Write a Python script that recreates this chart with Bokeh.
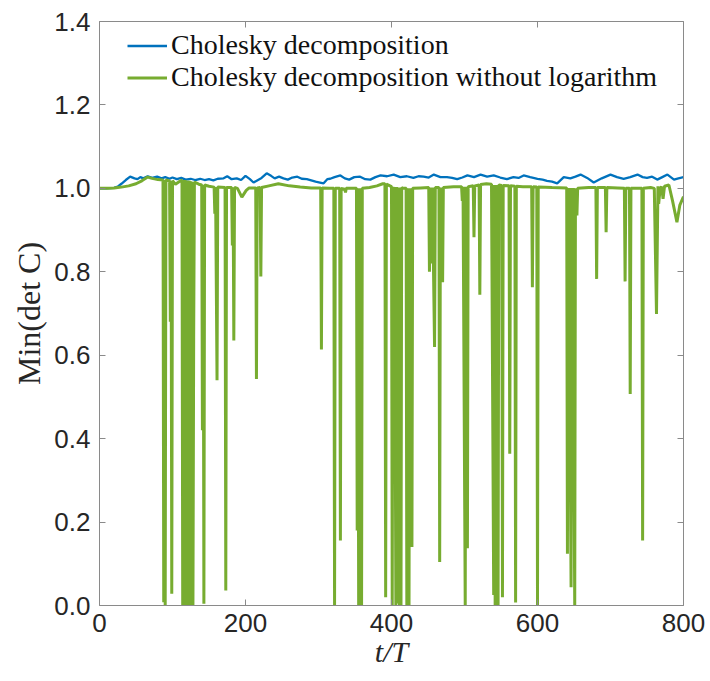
from bokeh.plotting import figure
from bokeh.models import (Range1d, LinearAxis, FixedTicker, PrintfTickFormatter,
                          Legend, LegendItem)
from bokeh.embed import file_html
from bokeh.resources import INLINE

# ---------------- data ----------------
x_ticks = [0, 200, 400, 600, 800]
y_ticks = [0.0, 0.2, 0.4, 0.6, 0.8, 1.0, 1.2, 1.4]

blue_t = [0, 10, 20, 25, 30, 36, 42, 48, 52, 56, 60, 66, 72, 79, 85, 90, 96, 100,
          106, 112, 118, 125, 131, 138, 144, 150, 156, 162, 170, 175, 181, 188,
          194, 200, 206, 211, 216, 222, 229, 235, 240, 246, 252, 258, 264, 271,
          277, 284, 290, 296, 302, 307, 312, 316, 322, 330, 336, 342, 349, 357,
          364, 371, 378, 385, 394, 403, 412, 421, 430, 437, 444, 451, 458, 467,
          476, 483, 490, 497, 504, 513, 522, 531, 540, 549, 558, 567, 574, 581,
          590, 600, 607, 613, 620, 627, 636, 645, 652, 659, 668, 677, 688, 700,
          709, 718, 727, 737, 744, 750, 757, 764, 771, 778, 787, 793, 800]
blue_v = [1.000, 1.000, 1.001, 1.004, 1.011, 1.020, 1.028, 1.024, 1.022, 1.027,
          1.024, 1.029, 1.025, 1.028, 1.024, 1.027, 1.023, 1.026, 1.022, 1.025,
          1.021, 1.023, 1.020, 1.023, 1.020, 1.022, 1.019, 1.023, 1.024, 1.029,
          1.022, 1.024, 1.020, 1.030, 1.022, 1.014, 1.019, 1.025, 1.036, 1.030,
          1.024, 1.028, 1.024, 1.021, 1.026, 1.028, 1.023, 1.022, 1.019, 1.016,
          1.014, 1.012, 1.022, 1.023, 1.027, 1.031, 1.024, 1.021, 1.027, 1.028,
          1.022, 1.021, 1.027, 1.031, 1.029, 1.033, 1.027, 1.029, 1.025, 1.029,
          1.028, 1.026, 1.033, 1.027, 1.027, 1.025, 1.022, 1.026, 1.031, 1.027,
          1.033, 1.028, 1.031, 1.026, 1.022, 1.027, 1.025, 1.031, 1.027, 1.023,
          1.021, 1.018, 1.016, 1.012, 1.027, 1.024, 1.028, 1.033, 1.025, 1.014,
          1.024, 1.033, 1.027, 1.023, 1.027, 1.033, 1.027, 1.025, 1.028, 1.021,
          1.027, 1.033, 1.021, 1.024, 1.027]

green_t = [0, 10, 20, 30, 40, 50, 58, 66, 72, 80, 87, 88, 89, 90, 91,
           96, 97, 98, 99, 100, 104, 110,
           113, 114, 115, 116, 117, 118, 119, 120, 121, 122, 123, 124, 125, 126,
           127, 128, 129, 130, 136, 140, 141, 142, 143, 144, 150, 157, 158, 159,
           161, 162, 172, 173, 174, 181, 182, 183, 184, 185, 189, 195, 201, 205,
           214, 215, 216, 220, 221, 222, 232, 245, 260, 275, 290,
           303, 304, 305, 315, 321, 322, 323, 329, 330, 331, 336, 337, 338, 345,
           352, 353, 354, 355, 356, 357, 358, 359, 360, 370, 380, 388,
           391, 392, 393, 400, 401, 402, 403, 404, 406, 407, 409, 410, 411, 412,
           413, 414, 415, 420, 421, 422, 424, 425, 428, 429, 440,
           451, 452, 453, 455, 456, 459, 460, 465, 466, 467, 470, 471, 485,
           496, 497, 498, 501, 502, 504, 505, 512, 513, 514, 520, 521, 522,
           530, 537, 540, 541, 542, 543, 544, 545, 546, 547, 551, 552, 553,
           561, 562, 563, 569, 570, 571, 580, 592, 593, 594, 599, 600, 601,
           620, 640, 641, 642, 643, 644, 645, 646, 647, 648, 649, 650, 651, 652,
           654, 655, 670, 680, 681, 682, 693, 694, 695, 710, 719, 720, 721,
           726, 727, 728, 743, 744, 745, 755, 760, 763, 765, 766, 768, 770,
           772, 774, 780, 785, 791, 795, 800]
green_v = [1.000, 1.000, 1.001, 1.003, 1.006, 1.011, 1.018, 1.027, 1.024, 1.021,
           1.020, 0.008, 1.020, 0.000, 1.020,
           1.018, 0.680, 1.018, 0.028, 1.018, 1.010, 1.017,
           1.020, 0.000, 1.020, 0.000, 1.020, 0.005, 1.019, 0.000, 1.019, 0.000,
           1.018, 0.000, 1.017, 0.000, 1.016, 0.000, 0.640, 1.015,
           1.010, 1.008, 0.420, 1.008, 0.004, 1.008, 1.005, 1.003, 0.939, 1.003,
           0.540, 1.003, 1.002, 0.036, 1.002, 1.002, 0.863, 1.002, 0.635, 1.002,
           1.000, 0.979, 0.995, 1.001,
           1.001, 0.543, 1.001, 1.002, 0.789, 1.002, 1.006, 1.011, 1.006, 1.003,
           1.001,
           1.001, 0.614, 1.001, 1.000, 1.000, 0.000, 1.000, 1.000, 0.156, 1.000,
           0.998, 0.990, 1.000, 1.000,
           1.000, 0.180, 1.000, 0.000, 1.000, 0.007, 1.000, 0.000, 1.000, 1.002,
           1.006, 1.011,
           1.011, 0.020, 1.010, 1.004, 0.000, 1.004, 0.300, 1.003, 0.000, 1.003,
           0.005, 1.002, 0.000, 1.002, 0.000, 1.002, 1.001, 1.000, 0.000,
           1.000, 0.000, 1.000, 0.140, 1.000, 1.001,
           1.002, 0.800, 1.002, 0.820, 1.002, 0.620, 1.002, 1.002, 0.104, 1.002,
           0.775, 1.002, 1.004,
           1.004, 0.970, 1.004, 0.000, 1.004, 0.137, 1.004, 1.006, 0.883, 1.006,
           1.008, 0.745, 1.009,
           1.011, 1.010, 0.025, 1.008, 0.000, 1.008, 0.005, 1.008, 0.000, 1.008,
           1.007, 0.020, 1.007,
           1.006, 0.364, 1.006, 1.005, 0.007, 1.005, 1.004, 1.004, 0.763, 1.004,
           1.003, 0.000, 1.003,
           1.002, 1.001, 0.124, 1.001, 0.350, 1.001, 0.330, 0.044, 1.001, 0.340,
           1.001, 0.330, 0.000, 1.000,
           0.935, 1.000, 1.002, 1.002, 0.783, 1.002, 1.002, 0.895, 1.002, 1.001,
           1.000, 0.777, 1.000,
           1.000, 0.507, 1.000, 1.000, 0.156, 1.000, 1.002, 1.000, 0.699, 1.005,
           0.963, 1.000, 1.004,
           0.975, 1.005, 1.008, 0.970, 0.919, 0.960, 0.980]

series_labels = ["Cholesky decomposition",
                 "Cholesky decomposition without logarithm"]
x_label = "t/T"
y_label = "Min(det C)"

# ---------------- figure ----------------
AX = "#8a8a8a"
TXT = "#262626"

p = figure(width=710, height=681, output_backend="svg", toolbar_location=None,
           x_range=Range1d(0, 800), y_range=Range1d(0, 1.4),
           min_border_left=99, min_border_right=27,
           min_border_top=21, min_border_bottom=76)
p.xgrid.visible = False
p.ygrid.visible = False
p.outline_line_color = None
p.background_fill_color = "white"
p.border_fill_color = "white"

def style_axis(ax):
    ax.axis_line_color = AX
    ax.axis_line_width = 1
    ax.major_tick_line_color = AX
    ax.major_tick_in = 6
    ax.major_tick_out = 0
    ax.minor_tick_line_color = None
    ax.major_label_text_color = TXT
    ax.major_label_text_font = "Liberation Sans"
    ax.major_label_text_font_size = "26px"

xa = p.xaxis[0]
ya = p.yaxis[0]
xa.ticker = FixedTicker(ticks=x_ticks)
ya.ticker = FixedTicker(ticks=y_ticks)
ya.formatter = PrintfTickFormatter(format="%.1f")
style_axis(xa)
style_axis(ya)
xa.major_label_standoff = 8
ya.major_label_standoff = 9

xa.axis_label = x_label
xa.axis_label_text_font = "Liberation Serif"
xa.axis_label_text_font_style = "italic"
xa.axis_label_text_font_size = "30px"
xa.axis_label_text_color = TXT
xa.axis_label_standoff = 0

ya.axis_label = y_label
ya.axis_label_text_font = "Liberation Serif"
ya.axis_label_text_font_style = "normal"
ya.axis_label_text_font_size = "32px"
ya.axis_label_text_color = TXT
ya.axis_label_standoff = 4

top = LinearAxis(ticker=FixedTicker(ticks=x_ticks),
                 major_label_overrides={t: "" for t in x_ticks})
right = LinearAxis(ticker=FixedTicker(ticks=y_ticks),
                   major_label_overrides={t: "" for t in y_ticks})
style_axis(top)
style_axis(right)
top.major_label_standoff = 0
right.major_label_standoff = 0
p.add_layout(top, "above")
p.add_layout(right, "right")

r_blue = p.line(blue_t, blue_v, line_color="#0072BD", line_width=2.3)
r_green = p.line(green_t, green_v, line_color="#77AC30", line_width=3)

legend = Legend(items=[LegendItem(label=series_labels[0], renderers=[r_blue]),
                       LegendItem(label=series_labels[1], renderers=[r_green])],
                location=(28, 512), margin=0, padding=0, spacing=0,
                glyph_width=40, glyph_height=31, label_height=31,
                label_standoff=4, border_line_color=None,
                background_fill_alpha=0,
                label_text_font="Liberation Serif", label_text_font_size="28px",
                label_text_color="#111111")
p.add_layout(legend)

open("out.html", "w").write(file_html(p, INLINE))
